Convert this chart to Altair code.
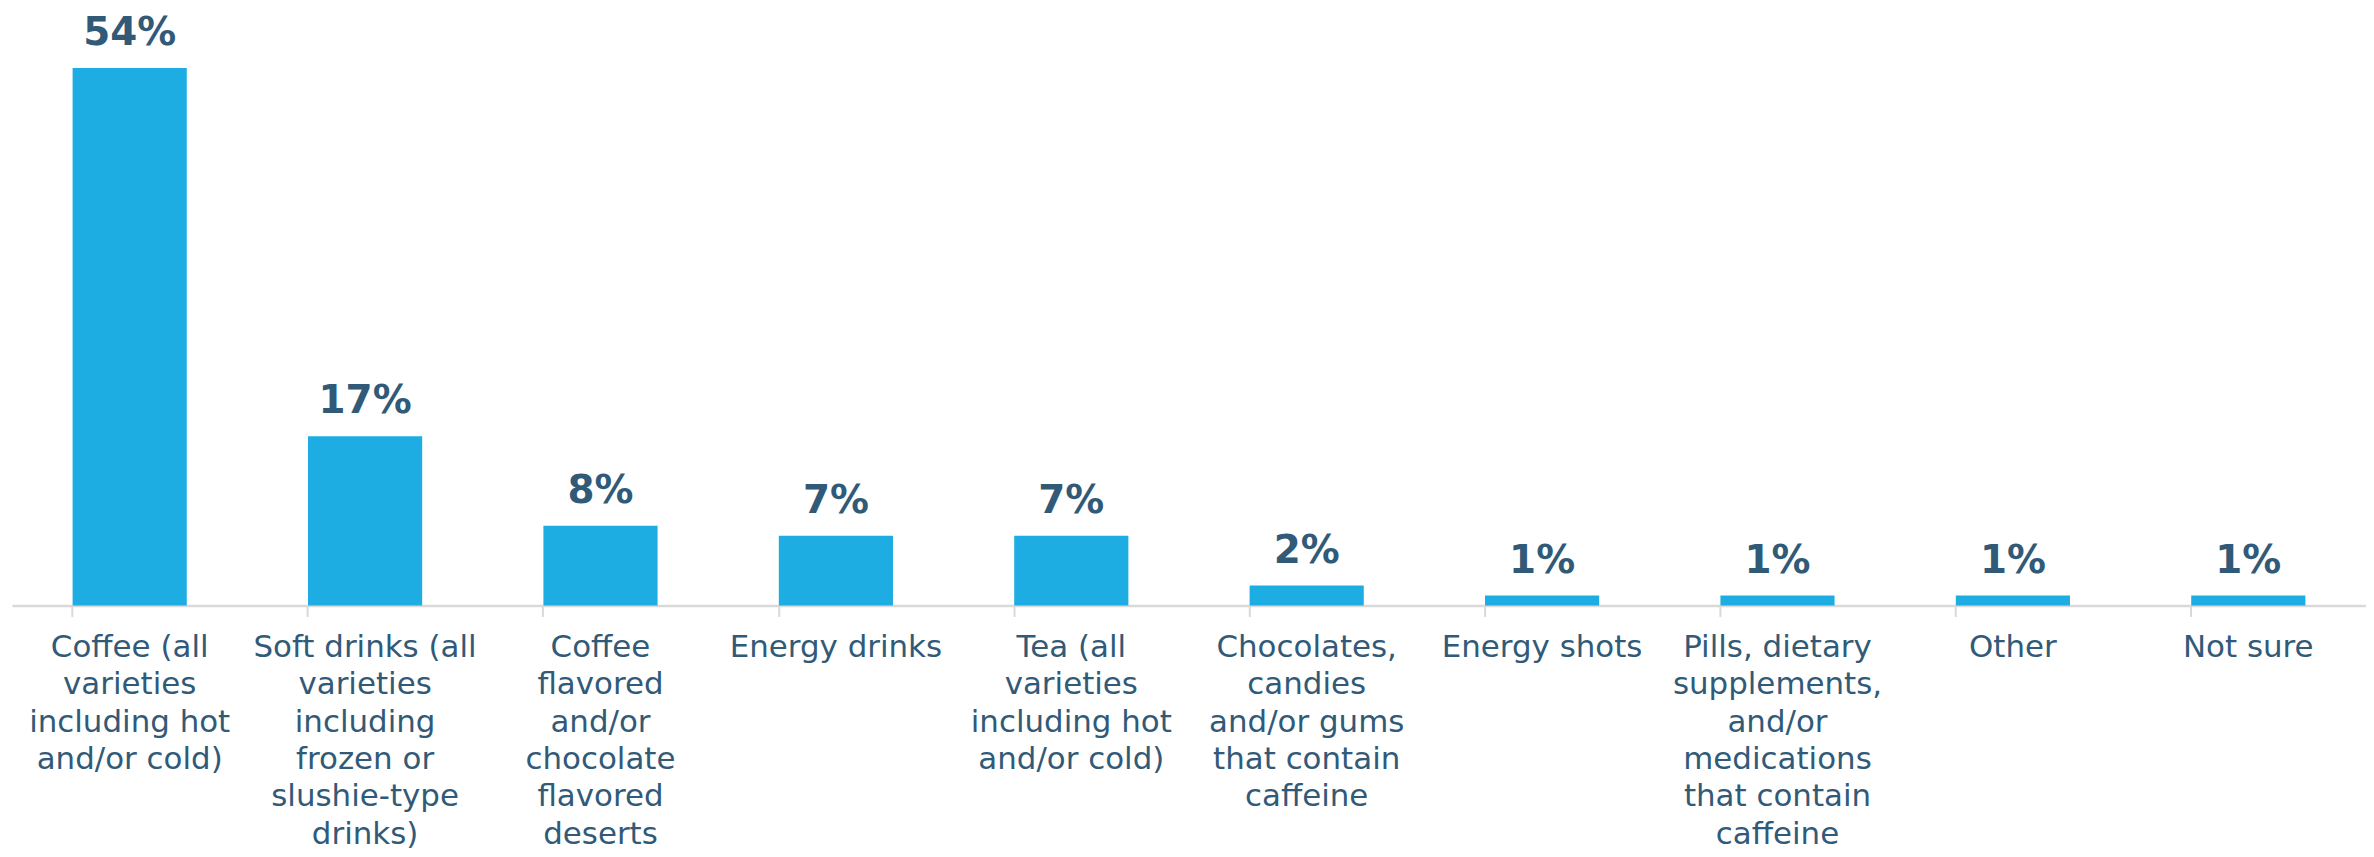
import altair as alt
import pandas as pd

categories = [
    "Coffee (all|varieties|including hot|and/or cold)",
    "Soft drinks (all|varieties|including|frozen or|slushie-type|drinks)",
    "Coffee|flavored|and/or|chocolate|flavored|deserts",
    "Energy drinks",
    "Tea (all|varieties|including hot|and/or cold)",
    "Chocolates,|candies|and/or gums|that contain|caffeine",
    "Energy shots",
    "Pills, dietary|supplements,|and/or|medications|that contain|caffeine",
    "Other",
    "Not sure",
]
values = [54, 17, 8, 7, 7, 2, 1, 1, 1, 1]
value_labels = ["54%", "17%", "8%", "7%", "7%", "2%", "1%", "1%", "1%", "1%"]

df = pd.DataFrame({"cat": categories, "val": values, "lab": value_labels})

BAR = "#1EADE3"
TXT = "#315A78"
FONT = "DejaVu Sans"

x = alt.X(
    "cat:N",
    sort=categories,
    title=None,
    scale=alt.Scale(paddingInner=0.515, paddingOuter=0.2575),
    axis=alt.Axis(
        labelExpr="split(datum.value, '|')",
        labelAngle=0,
        labelFont=FONT,
        labelFontSize=31,
        labelColor=TXT,
        labelLineHeight=37.5,
        labelBaseline="top",
        labelPadding=16,
        labelLimit=400,
        domainColor="#D9D9D9",
        domainWidth=2.5,
        tickColor="#D9D9D9",
        tickWidth=2,
        tickSize=11,
        bandPosition=0,
        grid=False,
    ),
)
y = alt.Y("val:Q", scale=alt.Scale(domain=[0, 59.1], nice=False), axis=None)

bars = alt.Chart(df).mark_bar(color=BAR).encode(x=x, y=y)
text = alt.Chart(df).mark_text(
    font=FONT, fontSize=39, fontWeight="bold", color=TXT, baseline="alphabetic", dy=-23
).encode(x=x, y=y, text="lab:N")

chart = (
    alt.layer(bars, text)
    .properties(width=2361, height=590, padding={"left": 4, "right": 0, "top": 4, "bottom": 0})
    .configure_view(stroke=None)
)

chart.save("out.html", embed_options={"renderer": "svg", "actions": False})
